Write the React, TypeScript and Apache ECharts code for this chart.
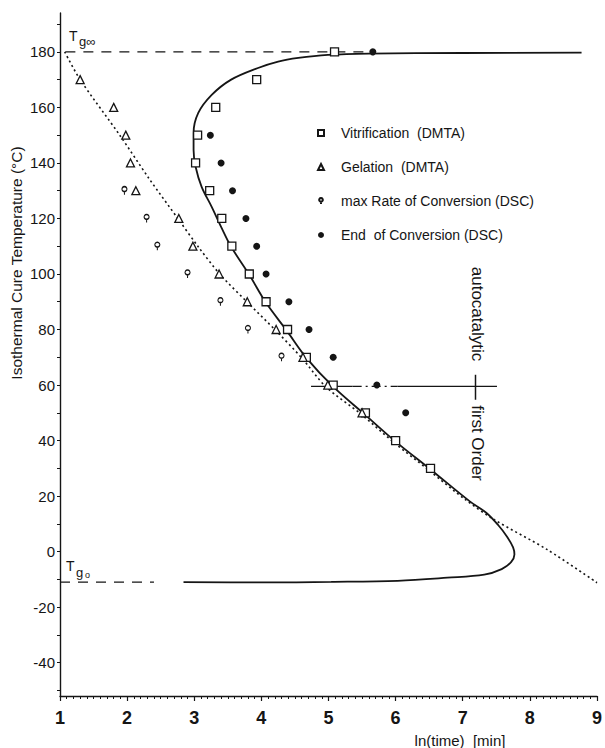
import React, { useEffect, useRef } from "react";
import * as echarts from "echarts";

// ---- data ----
const xTickValues = [1, 2, 3, 4, 5, 6, 7, 8, 9];
const yLabelValues = [-40, -20, 0, 20, 40, 60, 80, 100, 120, 140, 160, 180];
const yTickValues = [-50, -40, -30, -20, -10, 0, 10, 20, 30, 40, 50, 60, 70, 80, 90, 100, 110, 120, 130, 140, 150, 160, 170, 180, 190];

const vitrification: [number, number][] = [
  [5.09, 180], [3.93, 170], [3.32, 160], [3.05, 150], [3.02, 140], [3.23, 130],
  [3.41, 120], [3.56, 110], [3.82, 100], [4.07, 90], [4.39, 80], [4.67, 70],
  [5.07, 60], [5.55, 50], [6.0, 40], [6.52, 30],
];
const gelation: [number, number][] = [
  [1.3, 170], [1.8, 160], [1.98, 150], [2.05, 140], [2.13, 130], [2.77, 120],
  [2.98, 110], [3.37, 100], [3.79, 90], [4.22, 80], [4.62, 70], [4.99, 60], [5.5, 50],
];
const maxRate: [number, number][] = [
  [1.96, 130], [2.29, 120], [2.45, 110], [2.9, 100], [3.39, 90], [3.8, 80], [4.3, 70],
];
const endConversion: [number, number][] = [
  [5.66, 180], [3.24, 150], [3.4, 140], [3.57, 130], [3.77, 120], [3.93, 110],
  [4.07, 100], [4.41, 90], [4.71, 80], [5.07, 70], [5.72, 60], [6.15, 50],
];
const vitrificationCurve: [number, number][] = [
  [8.77, 179.7], [7.0, 179.6], [5.6, 179.4], [4.99, 178.9], [4.55, 177.8], [4.25, 176.5],
  [3.95, 174.2], [3.55, 170], [3.26, 164.5], [3.06, 158], [2.99, 150.8], [2.99, 144.7],
  [3.02, 138.6], [3.11, 131.4], [3.26, 124.2], [3.4, 117], [3.55, 109.8], [3.82, 99.7],
  [4.07, 89.6], [4.38, 79.5], [4.67, 69.8], [5.07, 59.4], [5.53, 49.6], [6.0, 39.6],
  [6.52, 29.6], [7.11, 18], [7.35, 14], [7.53, 9.5], [7.66, 5.4], [7.75, 1.5],
  [7.77, -1], [7.72, -3.8], [7.58, -6.3], [7.32, -8.3], [6.77, -9.4], [6.03, -10.5],
  [5.04, -10.9], [4.0, -11.1], [2.84, -11.0],
];
const gelationCurve: [number, number][] = [
  [1.07, 180], [1.3, 170], [1.89, 150], [2.32, 134.6], [2.77, 119.5], [3.06, 109.8],
  [3.39, 99.7], [3.8, 89.6], [4.22, 79.5], [4.6, 69.8], [4.96, 59.4], [5.48, 49.6],
  [5.96, 39.6], [6.48, 29.6], [7.04, 18.7], [7.47, 11.5], [8.26, 0.7], [9.0, -11.2],
];
const tgInfLine: [number, number][] = [[1.08, 180], [5.6, 180]];
const tg0Line: [number, number][] = [[1.0, -11], [2.4, -11]];
const transitionSolidA: [number, number][] = [[4.74, 59.5], [5.36, 59.5]];
const transitionDashDot: [number, number][] = [[5.36, 59.5], [6.03, 59.5]];
const transitionSolidB: [number, number][] = [[6.03, 59.5], [7.51, 59.5]];
const transitionMark: [number, number][] = [[7.19, 63.7], [7.19, 54.7]];

const seriesNames = [
  "Vitrification  (DMTA)",
  "Gelation  (DMTA)",
  "max Rate of Conversion (DSC)",
  "End  of Conversion (DSC)",
];

const FONT = "Liberation Sans, Arial, sans-serif";
const INK = "#151515";

const pinPath = "path://M5,1 A4,4 0 1,1 4.99,1 Z M5,9 L5,14";

function lineSeries(data: [number, number][], type: any, width: number, smooth: number | boolean = false) {
  return {
    type: "line",
    data,
    symbol: "none",
    silent: true,
    smooth,
    lineStyle: { color: INK, width, type },
    z: 1,
  };
}

export default function App() {
  const ref = useRef<HTMLDivElement>(null);
  useEffect(() => {
    if (!ref.current) return;
    const chart = echarts.init(ref.current, undefined, { renderer: "svg" });
    const hollow = { color: "#fff", borderColor: INK, borderWidth: 1.3, opacity: 1 };
    chart.setOption({
      animation: false,
      backgroundColor: "#fff",
      grid: { left: 60, right: 5, top: 13, bottom: 52, containLabel: false },
      xAxis: {
        type: "value",
        min: 1,
        max: 9,
        interval: 1,
        splitLine: { show: false },
        axisLine: { show: true, onZero: false, lineStyle: { color: INK, width: 1.4 } },
        axisTick: { show: true, length: 5, lineStyle: { color: INK, width: 1.2 } },
        minorTick: { show: true, splitNumber: 10, length: 3, lineStyle: { color: INK, width: 1 } },
        axisLabel: {
          margin: 13,
          fontSize: 18,
          fontWeight: "bold",
          fontFamily: FONT,
          color: INK,
          customValues: xTickValues,
        },
      },
      yAxis: {
        type: "value",
        min: -52,
        max: 194,
        splitLine: { show: false },
        axisLine: { show: true, onZero: false, lineStyle: { color: INK, width: 1.4 } },
        axisTick: { show: true, length: 3, customValues: yTickValues, lineStyle: { color: INK, width: 1 } },
        axisLabel: {
          margin: 5,
          fontSize: 15,
          fontFamily: FONT,
          color: INK,
          customValues: yLabelValues,
        },
      },
      legend: {
        show: true,
        orient: "vertical",
        left: 312,
        top: 121,
        itemWidth: 6,
        itemHeight: 6,
        itemGap: 20,
        data: seriesNames,
        textStyle: { fontSize: 14, fontFamily: FONT, color: INK, padding: [0, 0, 0, 12] },
        selectedMode: false,
      },
      series: [
        lineSeries(vitrificationCurve, "solid", 1.8, 0.35),
        lineSeries(gelationCurve, [2, 3], 1.6, 0.3),
        lineSeries(tgInfLine, [10, 8], 1.3),
        lineSeries(tg0Line, [10, 8], 1.3),
        lineSeries(transitionSolidA, "solid", 1.3),
        lineSeries(transitionDashDot, [9, 4, 2, 4], 1.3),
        lineSeries(transitionSolidB, "solid", 1.3),
        lineSeries(transitionMark, "solid", 1.5),
        {
          name: seriesNames[0],
          type: "scatter",
          data: vitrification,
          symbol: "rect",
          symbolSize: 8,
          itemStyle: hollow,
          z: 3,
        },
        {
          name: seriesNames[1],
          type: "scatter",
          data: gelation,
          symbol: "triangle",
          symbolSize: 8,
          itemStyle: hollow,
          z: 3,
        },
        {
          name: seriesNames[2],
          type: "scatter",
          data: maxRate,
          symbol: pinPath,
          symbolSize: [5, 8],
          itemStyle: hollow,
          z: 3,
        },
        {
          name: seriesNames[3],
          type: "scatter",
          data: endConversion,
          symbol: "circle",
          symbolSize: 7,
          itemStyle: { color: INK, opacity: 1 },
          z: 3,
        },
      ],
      graphic: [
        {
          type: "text",
          x: 16,
          y: 263,
          rotation: Math.PI / 2,
          style: {
            text: "Isothermal Cure Temperature (°C)",
            fontSize: 15.5,
            fontFamily: FONT,
            fill: INK,
            align: "center",
            verticalAlign: "middle",
          },
        },
        {
          type: "text",
          x: 460,
          y: 740,
          style: {
            text: "ln(time)  [min]",
            fontSize: 15,
            fontFamily: FONT,
            fill: INK,
            align: "center",
            verticalAlign: "middle",
          },
        },
        {
          type: "text",
          x: 477,
          y: 314,
          rotation: -Math.PI / 2,
          style: {
            text: "autocatalytic",
            fontSize: 17,
            fontFamily: FONT,
            fill: INK,
            align: "center",
            verticalAlign: "middle",
          },
        },
        {
          type: "text",
          x: 477,
          y: 443,
          rotation: -Math.PI / 2,
          style: {
            text: "first Order",
            fontSize: 17,
            fontFamily: FONT,
            fill: INK,
            align: "center",
            verticalAlign: "middle",
          },
        },
        { type: "text", x: 69, y: 29, style: { text: "T", fontSize: 14, fontFamily: FONT, fill: INK } },
        { type: "text", x: 79, y: 35, style: { text: "g∞", fontSize: 13, fontFamily: FONT, fill: INK } },
        { type: "text", x: 66, y: 559, style: { text: "T", fontSize: 14, fontFamily: FONT, fill: INK } },
        { type: "text", x: 76, y: 566, style: { text: "g", fontSize: 13, fontFamily: FONT, fill: INK } },
        { type: "text", x: 85, y: 570, style: { text: "o", fontSize: 9, fontFamily: FONT, fill: INK } },
      ],
    });
    return () => chart.dispose();
  }, []);
  return (
    <div
      ref={ref}
      style={{ position: "absolute", left: 0, top: 0, width: 605, height: 748, background: "#fff" }}
    />
  );
}
